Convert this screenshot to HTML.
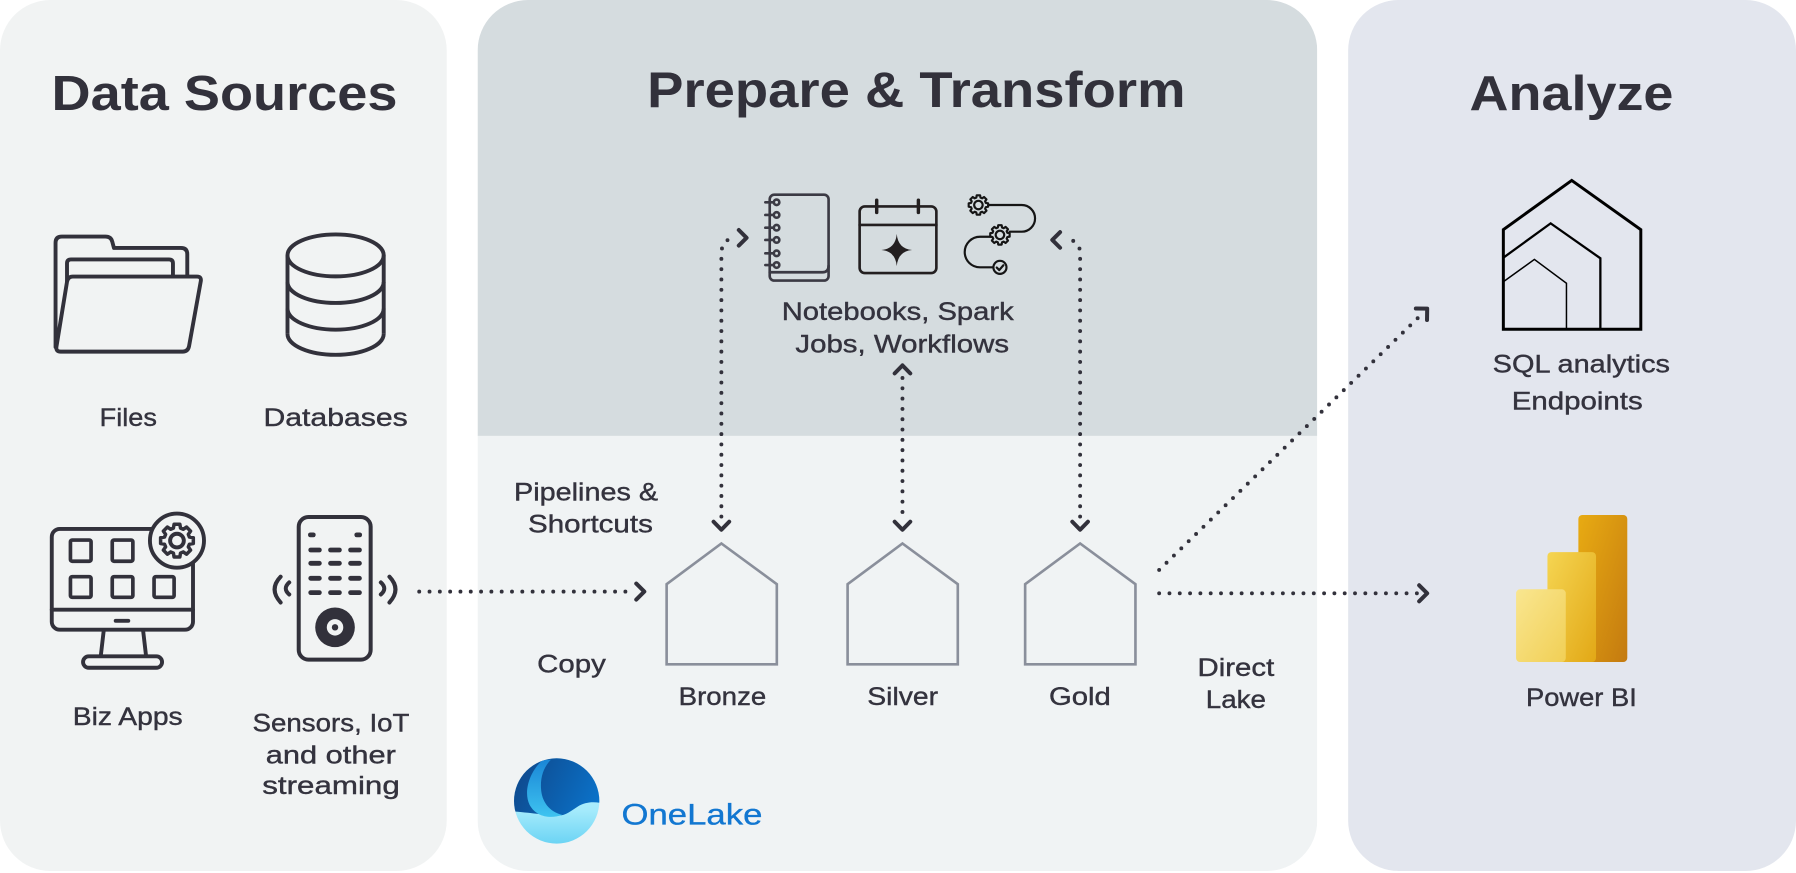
<!DOCTYPE html>
<html>
<head>
<meta charset="utf-8">
<style>
html,body{margin:0;padding:0;background:#ffffff;}
svg{display:block;}
</style>
</head>
<body>
<svg width="1796" height="873" viewBox="0 0 1568 762.2" preserveAspectRatio="none" xmlns="http://www.w3.org/2000/svg" font-family="'Liberation Sans', 'DejaVu Sans', sans-serif">
<defs>
  <clipPath id="midclip"><rect x="417" y="0" width="733" height="760.4" rx="44" ry="44"/></clipPath>
  <clipPath id="olc"><circle cx="155" cy="168" r="128"/></clipPath>
  <linearGradient id="olbase" x1="0" y1="0" x2="0" y2="1">
    <stop offset="0" stop-color="#c9f5ff"/>
    <stop offset="0.6" stop-color="#a6ebfc"/>
    <stop offset="1" stop-color="#6cd4f4"/>
  </linearGradient>
  <linearGradient id="oldark" x1="0" y1="0" x2="1" y2="0.3">
    <stop offset="0" stop-color="#0f3f7e"/>
    <stop offset="1" stop-color="#0b72c9"/>
  </linearGradient>
  <linearGradient id="olband" x1="0" y1="0" x2="0" y2="1">
    <stop offset="0" stop-color="#1a86d6"/>
    <stop offset="1" stop-color="#3ec3f0"/>
  </linearGradient>
  <linearGradient id="pb1" x1="0" y1="0" x2="1" y2="1">
    <stop offset="0" stop-color="#e8ab12"/>
    <stop offset="1" stop-color="#c47a10"/>
  </linearGradient>
  <linearGradient id="pb2" x1="0" y1="0" x2="1" y2="1">
    <stop offset="0" stop-color="#f5d552"/>
    <stop offset="1" stop-color="#e2a816"/>
  </linearGradient>
  <linearGradient id="pb3" x1="0" y1="0" x2="1" y2="1">
    <stop offset="0" stop-color="#f9e690"/>
    <stop offset="1" stop-color="#f1cf55"/>
  </linearGradient>
</defs>

<!-- Panels -->
<rect x="0" y="0" width="390" height="760.4" rx="44" ry="44" fill="#f1f3f3"/>
<g clip-path="url(#midclip)">
  <rect x="417" y="0" width="733" height="380.6" fill="#d5dcdf"/>
  <rect x="417" y="380.6" width="733" height="380" fill="#f0f3f4"/>
</g>
<rect x="1177" y="0" width="391" height="760.4" rx="44" ry="44" fill="#e3e6ee"/>

<!-- Titles -->
<g fill="#32313b" font-weight="700">
  <text x="45" y="96" font-size="43" textLength="302" lengthAdjust="spacingAndGlyphs">Data Sources</text>
  <text x="565" y="93.5" font-size="44" textLength="470" lengthAdjust="spacingAndGlyphs">Prepare &amp; Transform</text>
  <text x="1283" y="96" font-size="43" textLength="178" lengthAdjust="spacingAndGlyphs">Analyze</text>
</g>

<!-- Labels -->
<g fill="#34333e" stroke="#34333e" stroke-width="0.35" font-size="22">
  <text x="87" y="372" textLength="50" lengthAdjust="spacingAndGlyphs">Files</text>
  <text x="230" y="372" textLength="126" lengthAdjust="spacingAndGlyphs">Databases</text>
  <text x="63.5" y="633" textLength="96" lengthAdjust="spacingAndGlyphs">Biz Apps</text>
  <text x="220.5" y="638.8" textLength="137" lengthAdjust="spacingAndGlyphs">Sensors, IoT</text>
  <text x="232" y="666.4" textLength="113.6" lengthAdjust="spacingAndGlyphs">and other</text>
  <text x="229" y="693.2" textLength="120" lengthAdjust="spacingAndGlyphs">streaming</text>
  <text x="448.8" y="437" textLength="125.7" lengthAdjust="spacingAndGlyphs">Pipelines &amp;</text>
  <text x="461" y="465" textLength="109" lengthAdjust="spacingAndGlyphs">Shortcuts</text>
  <text x="469" y="587" textLength="60" lengthAdjust="spacingAndGlyphs">Copy</text>
  <text x="592.5" y="615.5" textLength="76.5" lengthAdjust="spacingAndGlyphs">Bronze</text>
  <text x="757.2" y="615.5" textLength="61.8" lengthAdjust="spacingAndGlyphs">Silver</text>
  <text x="915.8" y="615.5" textLength="54" lengthAdjust="spacingAndGlyphs">Gold</text>
  <text x="1045.5" y="590" textLength="67" lengthAdjust="spacingAndGlyphs">Direct</text>
  <text x="1052.7" y="618" textLength="52.6" lengthAdjust="spacingAndGlyphs">Lake</text>
  <text x="682.5" y="279.4" textLength="202.5" lengthAdjust="spacingAndGlyphs">Notebooks, Spark</text>
  <text x="694.4" y="307.9" textLength="186.6" lengthAdjust="spacingAndGlyphs">Jobs, Workflows</text>
  <text x="1303.2" y="325.4" textLength="154.8" lengthAdjust="spacingAndGlyphs">SQL analytics</text>
  <text x="1319.8" y="357.4" textLength="114.4" lengthAdjust="spacingAndGlyphs">Endpoints</text>
  <text x="1332.3" y="616.4" textLength="96.7" lengthAdjust="spacingAndGlyphs">Power BI</text>
</g>
<text x="542.6" y="719.7" font-size="26" fill="#1277d1" stroke="#1277d1" stroke-width="0.3" textLength="123" lengthAdjust="spacingAndGlyphs">OneLake</text>

<!-- Folder icon -->
<g fill="#f1f3f3" stroke="#32313b" stroke-width="3.4" stroke-linejoin="round" stroke-linecap="round">
  <path d="M48.5,303 V212 Q48.5,206.5 54,206.5 H92 Q97,206.5 98,211 L99.5,216.5 H158 Q163.5,216.5 163.5,222 V245"/>
  <path d="M58.5,262 V230 Q58.5,226.5 62,226.5 H147.5 Q151,226.5 151,230 V241"/>
  <path d="M63.5,241.5 H172 Q176,241.5 175.3,245.5 L165,302.5 Q164,307 159.5,307 H53 Q48.5,307 49.3,302.5 L58.5,246 Q59.5,241.5 63.5,241.5 Z"/>
</g>

<!-- Database icon -->
<g fill="none" stroke="#32313b" stroke-width="3.4">
  <ellipse cx="293" cy="223" rx="42" ry="18.3"/>
  <line x1="251" y1="223" x2="251" y2="291.5"/>
  <line x1="335" y1="223" x2="335" y2="291.5"/>
  <path d="M251,246.2 A42,18.3 0 0 0 335,246.2"/>
  <path d="M251,269.5 A42,18.3 0 0 0 335,269.5"/>
  <path d="M251,291.5 A42,18.3 0 0 0 335,291.5"/>
</g>

<!-- Biz Apps monitor -->
<g fill="none" stroke="#32313b" stroke-width="3.4" stroke-linejoin="round" stroke-linecap="round">
  <rect x="45.2" y="461.8" width="123.3" height="88" rx="7"/>
  <line x1="45.2" y1="532.3" x2="168.5" y2="532.3"/>
  <line x1="101" y1="542" x2="112" y2="542"/>
  <line x1="90.5" y1="551" x2="88" y2="572.5"/>
  <line x1="125" y1="551" x2="127.5" y2="572.5"/>
  <rect x="72.5" y="573" width="69" height="10" rx="5"/>
  <rect x="61.5" y="471.5" width="18" height="18.5" rx="1.5" stroke-width="3.2"/>
  <rect x="98" y="471.5" width="18" height="18.5" rx="1.5" stroke-width="3.2"/>
  <rect x="61.5" y="503.5" width="18" height="18" rx="1.5" stroke-width="3.2"/>
  <rect x="98" y="503.5" width="18" height="18" rx="1.5" stroke-width="3.2"/>
  <rect x="134.5" y="503.5" width="17.5" height="18" rx="1.5" stroke-width="3.2"/>
  <circle cx="154.5" cy="472" r="23.6" fill="#f1f3f3"/>
  <polygon transform="translate(154.5,472) scale(14.5)" stroke-width="0.21" points=".750,-.215 .985,-.174 .985,.174 .750,.215 .682,.378 .819,.574 .574,.819 .378,.682 .215,.750 .174,.985 -.174,.985 -.215,.750 -.378,.682 -.574,.819 -.819,.574 -.682,.378 -.750,.215 -.985,.174 -.985,-.174 -.750,-.215 -.682,-.378 -.819,-.574 -.574,-.819 -.378,-.682 -.215,-.750 -.174,-.985 .174,-.985 .215,-.750 .378,-.682 .574,-.819 .819,-.574 .682,-.378"/>
  <circle cx="154.5" cy="472" r="6"/>
</g>

<!-- Remote / sensor -->
<g fill="none" stroke="#32313b" stroke-width="3.5" stroke-linecap="round" stroke-linejoin="round">
  <rect x="260.8" y="451.4" width="62.8" height="124.5" rx="8.5"/>
  <g stroke-width="4.2">
    <line x1="271" y1="467" x2="273.5" y2="467"/>
    <line x1="311.5" y1="467" x2="314" y2="467"/>
    <line x1="271.3" y1="480.2" x2="278.8" y2="480.2"/>
    <line x1="288.6" y1="480.2" x2="296.3" y2="480.2"/>
    <line x1="306.1" y1="480.2" x2="313.8" y2="480.2"/>
    <line x1="271.3" y1="491.8" x2="278.8" y2="491.8"/>
    <line x1="288.6" y1="491.8" x2="296.3" y2="491.8"/>
    <line x1="306.1" y1="491.8" x2="313.8" y2="491.8"/>
    <line x1="271.3" y1="504.9" x2="278.8" y2="504.9"/>
    <line x1="288.6" y1="504.9" x2="296.3" y2="504.9"/>
    <line x1="306.1" y1="504.9" x2="313.8" y2="504.9"/>
    <line x1="271.3" y1="517.4" x2="278.8" y2="517.4"/>
    <line x1="288.6" y1="517.4" x2="296.3" y2="517.4"/>
    <line x1="306.1" y1="517.4" x2="313.8" y2="517.4"/>
  </g>
  <path d="M245,503.5 Q234.5,514.5 245,526"/>
  <path d="M252.5,508.5 Q246.5,513.8 252.5,519"/>
  <path d="M340,503.5 Q350.5,514.5 340,526"/>
  <path d="M332.5,508.5 Q338.5,513.8 332.5,519"/>
</g>
<circle cx="292.5" cy="547.7" r="17.3" fill="#32313b"/>
<circle cx="292.5" cy="547.7" r="7.2" fill="#f1f3f3"/>
<circle cx="292.5" cy="547.7" r="2.8" fill="#32313b"/>

<!-- Notebook -->
<g fill="none" stroke="#3b3a44" stroke-width="2.3" stroke-linecap="round" stroke-linejoin="round">
  <rect x="672" y="170" width="51.4" height="75" rx="4"/>
  <path d="M672,237.7 H718 Q723.4,237.7 723.4,232"/>
  <g fill="#d5dcdf">
    <line x1="668.2" y1="176.6" x2="675.5" y2="176.6"/><circle cx="678" cy="176.6" r="2.4"/>
    <line x1="668.2" y1="187.7" x2="675.5" y2="187.7"/><circle cx="678" cy="187.7" r="2.4"/>
    <line x1="668.2" y1="198.8" x2="675.5" y2="198.8"/><circle cx="678" cy="198.8" r="2.4"/>
    <line x1="668.2" y1="209.5" x2="675.5" y2="209.5"/><circle cx="678" cy="209.5" r="2.4"/>
    <line x1="668.2" y1="221.2" x2="675.5" y2="221.2"/><circle cx="678" cy="221.2" r="2.4"/>
    <line x1="668.2" y1="231.4" x2="675.5" y2="231.4"/><circle cx="678" cy="231.4" r="2.4"/>
  </g>
</g>

<!-- Calendar -->
<g fill="none" stroke="#231f20" stroke-width="2.3" stroke-linecap="round">
  <rect x="750.5" y="180.2" width="67" height="58.2" rx="4.5"/>
  <line x1="750.5" y1="196.4" x2="817.5" y2="196.4"/>
  <line x1="765.4" y1="174.8" x2="765.4" y2="185.5" stroke-width="3"/>
  <line x1="801.8" y1="174.8" x2="801.8" y2="185.5" stroke-width="3"/>
</g>
<path d="M782.9,204.2 Q784,217.2 796.3,218.3 Q784,219.4 782.9,232.4 Q781.8,219.4 769.5,218.3 Q781.8,217.2 782.9,204.2 Z" fill="#231f20"/>

<!-- Workflow -->
<g fill="none" stroke="#151515" stroke-width="1.9" stroke-linecap="round" stroke-linejoin="round">
  <path d="M862.9,179 H892 A11.65,11.65 0 0 1 892,202.3 H881.5"/>
  <path d="M864.5,206.7 H855.6 A13.35,13.35 0 0 0 855.6,233.4 H867.2"/>
  <polygon transform="translate(854.2,179) scale(8.6)" stroke-width="0.22" points=".750,-.215 .985,-.174 .985,.174 .750,.215 .682,.378 .819,.574 .574,.819 .378,.682 .215,.750 .174,.985 -.174,.985 -.215,.750 -.378,.682 -.574,.819 -.819,.574 -.682,.378 -.750,.215 -.985,.174 -.985,-.174 -.750,-.215 -.682,-.378 -.819,-.574 -.574,-.819 -.378,-.682 -.215,-.750 -.174,-.985 .174,-.985 .215,-.750 .378,-.682 .574,-.819 .819,-.574 .682,-.378"/>
  <circle cx="854.2" cy="179" r="3.7"/>
  <polygon transform="translate(873,205.1) scale(8.6)" stroke-width="0.22" points=".750,-.215 .985,-.174 .985,.174 .750,.215 .682,.378 .819,.574 .574,.819 .378,.682 .215,.750 .174,.985 -.174,.985 -.215,.750 -.378,.682 -.574,.819 -.819,.574 -.682,.378 -.750,.215 -.985,.174 -.985,-.174 -.750,-.215 -.682,-.378 -.819,-.574 -.574,-.819 -.378,-.682 -.215,-.750 -.174,-.985 .174,-.985 .215,-.750 .378,-.682 .574,-.819 .819,-.574 .682,-.378"/>
  <circle cx="873" cy="205.1" r="3.7"/>
  <circle cx="873" cy="233.4" r="5.7"/>
  <path d="M870.2,233.6 L872.4,235.8 L876,231.6"/>
</g>

<!-- Medallion houses -->
<g fill="none" stroke="#8a8f9b" stroke-width="2.3" stroke-linejoin="miter">
  <polygon points="582,580 582,510 629.8,474.5 678.2,510 678.2,580"/>
  <polygon points="740,580 740,510 787.9,474.5 836.2,510 836.2,580"/>
  <polygon points="895,580 895,510 943,474.5 991.3,510 991.3,580"/>
</g>

<!-- SQL analytics endpoint icon -->
<g fill="none" stroke="#000" stroke-linejoin="miter">
  <polygon points="1312.5,287.5 1312.5,200.5 1372.2,157.5 1432.5,200.5 1432.5,287.5" stroke-width="2.6"/>
  <polyline points="1312.5,225 1353.8,195 1397.2,225.5 1397.2,287.5" stroke-width="2"/>
  <polyline points="1312.5,246 1339.6,226.5 1367.6,247.3 1367.6,287.5" stroke-width="1.3"/>
</g>

<!-- Power BI -->
<rect x="1378" y="449.6" width="42.7" height="128.4" rx="3.5" fill="url(#pb1)"/>
<rect x="1351" y="482" width="42.4" height="96" rx="3.5" fill="url(#pb2)"/>
<rect x="1323.6" y="514.5" width="43.4" height="63.5" rx="3.5" fill="url(#pb3)"/>

<!-- OneLake logo -->
<g transform="translate(440.9,650.4) scale(0.291)">
  <circle cx="155" cy="168" r="128" fill="url(#olbase)"/>
  <g clip-path="url(#olc)">
    <path d="M0,0 H330 V188 C290,170 250,165 218,185 C196,199 182,212 160,212 C120,212 80,202 0,198 Z" fill="url(#oldark)"/>
    <path d="M112,46 C74,80 54,140 74,180 C94,216 134,222 172,210 C132,200 110,170 108,130 C106,96 116,66 138,44 Z" fill="url(#olband)"/>
  </g>
</g>

<!-- Dotted connectors -->
<g fill="none" stroke="#32313b" stroke-width="3.4" stroke-linecap="round" stroke-dasharray="0 9">
  <path d="M366,516.5 H553"/>
  <path d="M629.8,451 V222 Q629.8,209 641,207.8"/>
  <path d="M787.9,330 V451"/>
  <path d="M943,451 V222 Q943,210 933,209.5"/>
  <path d="M1012,518 H1238"/>
  <path d="M1012,497.6 L1239,276.5"/>
</g>

<!-- Arrowheads -->
<g fill="none" stroke="#32313b" stroke-width="3.5" stroke-linecap="round" stroke-linejoin="round">
  <polyline points="555.5,509.5 562.5,516.5 555.5,523.5"/>
  <polyline points="623,455.5 629.8,462.5 636.6,455.5"/>
  <polyline points="781.1,455.5 787.9,462.5 794.7,455.5"/>
  <polyline points="936.2,455.5 943,462.5 949.8,455.5"/>
  <polyline points="781.1,326 787.9,319 794.7,326"/>
  <polyline points="645,200.8 651.8,207.6 645,214.4"/>
  <polyline points="925.5,202.7 918.7,209.5 925.5,216.3"/>
  <polyline points="1239,511 1246,518 1239,525"/>
  <polyline transform="translate(1246,269.5) rotate(-44.2)" points="-7,-7 0,0 -7,7"/>
</g>
</svg>
</body>
</html>
